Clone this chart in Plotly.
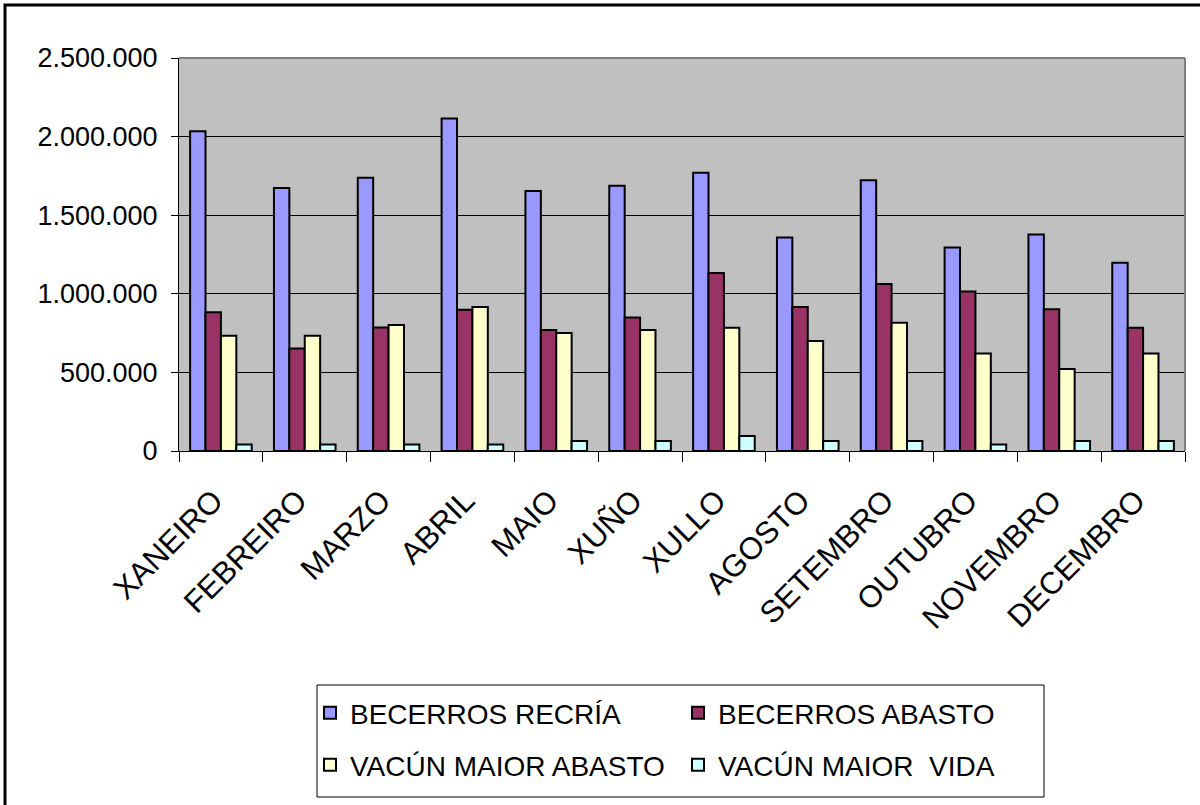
import plotly.graph_objects as go

months = ["XANEIRO", "FEBREIRO", "MARZO", "ABRIL", "MAIO", "XUÑO", "XULLO",
          "AGOSTO", "SETEMBRO", "OUTUBRO", "NOVEMBRO", "DECEMBRO"]
becerros_recria = [2034000, 1673000, 1739000, 2115000, 1654000, 1688000,
                   1770000, 1358000, 1722000, 1294000, 1377000, 1197000]
becerros_abasto = [882000, 652000, 786000, 899000, 769000, 850000,
                   1133000, 916000, 1063000, 1014000, 901000, 784000]
vacun_maior_abasto = [733000, 733000, 801000, 916000, 750000, 769000,
                      784000, 699000, 816000, 621000, 521000, 621000]
vacun_maior_vida = [42000, 42000, 42000, 42000, 64000, 64000,
                    96000, 64000, 64000, 42000, 64000, 64000]
y_ticks = [0, 500000, 1000000, 1500000, 2000000, 2500000]

FONT = "Liberation Sans, Arial, sans-serif"
series = [
    ("BECERROS RECRÍA", becerros_recria, "#9999FF", "legend"),
    ("BECERROS ABASTO", becerros_abasto, "#993366", "legend"),
    ("VACÚN MAIOR ABASTO", vacun_maior_abasto, "#FFFFCC", "legend2"),
    ("VACÚN MAIOR\u00a0 VIDA", vacun_maior_vida, "#CCFFFF", "legend2"),
]

fig = go.Figure()
for name, vals, col, lg in series:
    fig.add_trace(go.Bar(
        x=months, y=vals, name=name, legend=lg,
        marker=dict(color=col, line=dict(color="black", width=2)),
    ))

W, H = 1200, 805
PL, PR, PT, PB = 179, 1185, 58, 451  # plot area edges in pixels
L, T, R, B = PL, PT, W - PR, H - PB
pw, ph = PR - PL, PB - PT

def px(x):
    return (x - PL) / pw

def py(y):
    return (PB - y) / ph

leg_common = dict(
    orientation="h", xanchor="left", yanchor="middle",
    font=dict(family=FONT, size=28, color="black"),
    bgcolor="rgba(0,0,0,0)", borderwidth=0,
    entrywidth=323, entrywidthmode="pixels", itemwidth=30,
    traceorder="normal",
)

fig.update_layout(
    width=W, height=H,
    margin=dict(l=L, r=R, t=T, b=B, pad=0),
    paper_bgcolor="white", plot_bgcolor="#C0C0C0",
    separators=",.",
    barmode="group", bargap=0.265, bargroupgap=0,
    font=dict(family=FONT, size=27, color="black"),
    legend=dict(x=px(310), y=py(713), **leg_common),
    legend2=dict(x=px(310), y=py(765), **leg_common),
    xaxis=dict(
        type="category", tickangle=-45, tickson="boundaries",
        ticks="outside", ticklen=10, tickcolor="black", tickwidth=1,
        ticklabelstandoff=18, ticklabelshift=-7,
        showline=True, linecolor="black", linewidth=1,
        showgrid=False,
        tickfont=dict(family=FONT, size=31, color="black"),
    ),
    yaxis=dict(
        range=[0, 2500000], tickvals=y_ticks, tickformat=",d",
        ticks="outside", ticklen=7, tickcolor="black", tickwidth=1,
        ticklabelstandoff=8,
        showline=True, linecolor="black", linewidth=1,
        showgrid=True, gridcolor="black", gridwidth=1,
        zeroline=False,
        tickfont=dict(family=FONT, size=27, color="black"),
    ),
    shapes=[
        # plot area top and right border
        dict(type="line", xref="paper", yref="paper", x0=0, x1=1, y0=1, y1=1,
             line=dict(color="#808080", width=2)),
        dict(type="line", xref="paper", yref="paper", x0=1, x1=1, y0=0, y1=1,
             line=dict(color="#808080", width=2)),
        # legend box
        dict(type="rect", xref="paper", yref="paper",
             x0=px(317), x1=px(1044), y0=py(685), y1=py(797),
             line=dict(color="black", width=1), fillcolor="rgba(0,0,0,0)",
             layer="below"),
        # outer chart frame
        dict(type="rect", xref="paper", yref="paper",
             x0=px(5), x1=px(1215), y0=py(5), y1=py(820),
             line=dict(color="black", width=3), fillcolor="rgba(0,0,0,0)"),
    ],
)

fig.write_html("out.html", config={"displayModeBar": False},
               post_script="document.body.style.margin='0';")
